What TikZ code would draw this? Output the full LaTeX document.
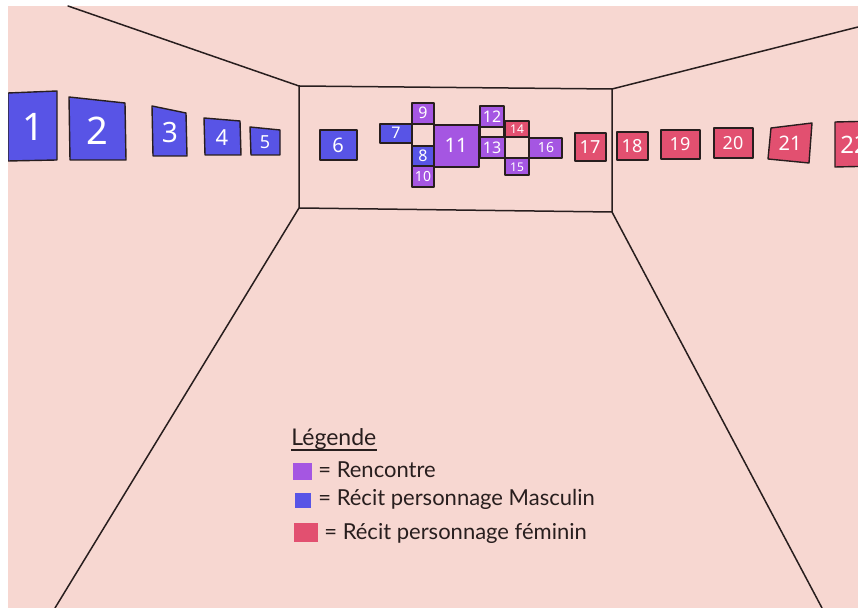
\documentclass[tikz,border=0pt]{standalone}
\usepackage{fontspec}
\setmainfont{Lato}
\newfontfamily\numfont{Noto Sans}
\definecolor{bgpink}{RGB}{247,215,209}
\definecolor{mblue}{RGB}{88,84,230}
\definecolor{mpurple}{RGB}{165,86,226}
\definecolor{mred}{RGB}{226,80,112}
\definecolor{ink}{RGB}{40,30,30}
\newcommand{\fs}[1]{\fontsize{#1}{#1}\selectfont}
\begin{document}
\begin{tikzpicture}[x=0.5pt,y=-0.5pt,
  wall/.style={draw=ink,line width=0.75pt,line cap=round},
  frame/.style={draw=ink,line width=0.7pt,line join=round},
  num/.style={text=white,inner sep=0pt,font=\numfont},
  legtext/.style={text=ink,inner sep=0pt,anchor=base west}]
\useasboundingbox (0,0) rectangle (858,608);
\fill[white] (0,0) rectangle (858,608);
\fill[bgpink] (8,6) rectangle (858,608);
\begin{scope}
\clip (8,6) rectangle (858,608);
% room corners
\coordinate (btl) at (299,86);
\coordinate (btr) at (612,89);
\coordinate (bbl) at (299,208);
\coordinate (bbr) at (612,212);
\coordinate (ctl) at (68,6);
\coordinate (ctr) at (858,27);
\coordinate (fl) at (55,608);
\coordinate (fr) at (822,608);
\draw[wall] (btl) -- (btr) -- (bbr) -- (bbl) -- cycle;
\draw[wall] (ctl) -- (btl);
\draw[wall] (ctr) -- (btr);
\draw[wall] (fl) -- (bbl);
\draw[wall] (fr) -- (bbr);
% left wall paintings (masculin)
\filldraw[frame,fill=mblue] (8,93) -- (57,91) -- (57,160) -- (8,161) -- cycle;
\node[num,font=\numfont\fs{19}] (p1) at (33,127) {1};
\filldraw[frame,fill=mblue] (69,97) -- (125,103) -- (126,160) -- (70,160) -- cycle;
\node[num,font=\numfont\fs{19}] (p2) at (97,131) {2};
\filldraw[frame,fill=mblue] (152,106) -- (186,113) -- (187,156) -- (153,156) -- cycle;
\node[num,font=\numfont\fs{14}] (p3) at (170,133) {3};
\filldraw[frame,fill=mblue] (204,118) -- (240,121) -- (241,155) -- (205,155) -- cycle;
\node[num,font=\numfont\fs{11}] (p4) at (222,138) {4};
\filldraw[frame,fill=mblue] (250,127) -- (280,130) -- (280,155) -- (251,155) -- cycle;
\node[num,font=\numfont\bfseries\fs{9}] (p5) at (265,142) {5};
% back wall
\filldraw[frame,fill=mblue] (320,130) rectangle (357,160);
\node[num,font=\numfont\fs{10}] (p6) at (338,145) {6};
\filldraw[frame,fill=mblue] (380,124) rectangle (412,143);
\node[num,font=\numfont\bfseries\fs{8}] (p7) at (396,133) {7};
\filldraw[frame,fill=mpurple] (412,103) rectangle (434,124);
\node[num,font=\numfont\bfseries\fs{8}] (p9) at (423,113) {9};
\draw[frame] (412,124) rectangle (434,146);
\filldraw[frame,fill=mblue] (412,146) rectangle (434,166);
\node[num,font=\numfont\bfseries\fs{8}] (p8) at (423,156) {8};
\filldraw[frame,fill=mpurple] (412,166) rectangle (434,187);
\node[num,font=\numfont\bfseries\fs{7}] (p10) at (423,177) {10};
\filldraw[frame,fill=mpurple] (434,125) rectangle (479,167);
\node[num,font=\numfont\fs{10}] (p11) at (456,145) {11};
\filldraw[frame,fill=mpurple] (480,106) rectangle (504,127);
\node[num,font=\numfont\bfseries\fs{8}] (p12) at (492,117) {12};
\draw[frame] (480,127) rectangle (504,137);
\filldraw[frame,fill=mpurple] (480,137) rectangle (505,158);
\node[num,font=\numfont\bfseries\fs{8}] (p13) at (492,148) {13};
\filldraw[frame,fill=mred] (505,121) rectangle (529,137);
\node[num,font=\numfont\fs{6}] (p14) at (517,129) {14};
\draw[frame] (505,137) rectangle (529,158);
\filldraw[frame,fill=mpurple] (505,158) rectangle (529,175);
\node[num,font=\numfont\fs{6}] (p15) at (517,167) {15};
\filldraw[frame,fill=mpurple] (529,138) rectangle (562,158);
\node[num,font=\numfont\fs{7}] (p16) at (546,148) {16};
\filldraw[frame,fill=mred] (575,133) rectangle (606,161);
\node[num,font=\numfont\fs{9}] (p17) at (590,147) {17};
% right wall paintings (feminin)
\filldraw[frame,fill=mred] (617,132) rectangle (648,160);
\node[num,font=\numfont\fs{9}] (p18) at (632,146) {18};
\filldraw[frame,fill=mred] (661,130) rectangle (700,159);
\node[num,font=\numfont\fs{9}] (p19) at (680,144) {19};
\filldraw[frame,fill=mred] (714,128) rectangle (753,158);
\node[num,font=\numfont\fs{9}] (p20) at (733,143) {20};
\filldraw[frame,fill=mred] (771,128) -- (812,123) -- (809,163) -- (768,159) -- cycle;
\node[num,font=\numfont\fs{10}] (p21) at (790,143) {21};
\filldraw[frame,fill=mred] (835,122) -- (880,121) -- (880,166) -- (835,167) -- cycle;
\node[num,font=\numfont\fs{12},anchor=west] (p22) at (840,145) {22};
\end{scope}
% legend
\node[legtext,font=\fs{11.5}] (lt) at (291,446) {Légende};
\draw[draw=ink,line width=0.6pt] ([yshift=-2pt]lt.base west) -- ([yshift=-2pt]lt.base east);
\fill[mpurple] (293,463) rectangle (312,480);
\node[legtext,font=\fs{11}] (l1) at (318,478) {= Rencontre};
\fill[mblue] (295,493) rectangle (311,508);
\node[legtext,font=\fs{11}] (l2) at (318,506) {= Récit personnage Masculin};
\fill[mred] (294,523) rectangle (318,542);
\node[legtext,font=\fs{11}] (l3) at (324,540) {= Récit personnage féminin};
\end{tikzpicture}
\end{document}
